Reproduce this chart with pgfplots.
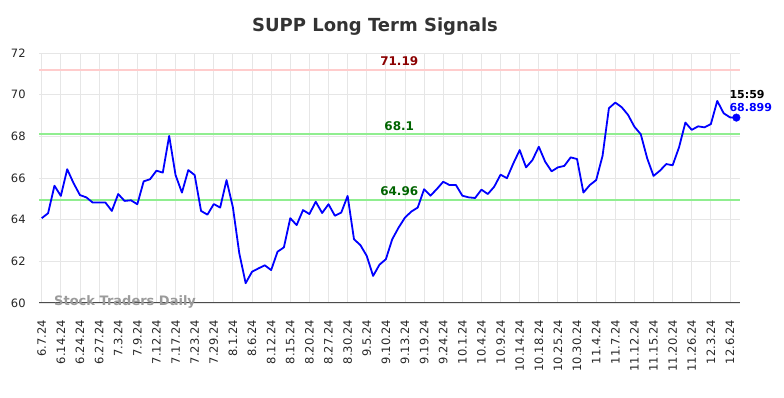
\documentclass[border=0pt]{standalone}
\usepackage{fontspec}
\setmainfont{DejaVu Sans}
\usepackage{pgfplots}
\pgfplotsset{compat=1.18}
\definecolor{sigred}{RGB}{255,204,204}
\definecolor{siggreen}{RGB}{144,238,144}
\definecolor{darkredtxt}{RGB}{139,0,0}
\definecolor{darkgreentxt}{RGB}{0,100,0}
\definecolor{titlegray}{RGB}{51,51,51}
\definecolor{gridgray}{RGB}{230,230,230}
\definecolor{wmgray}{RGB}{155,155,155}
\begin{document}
\begin{tikzpicture}[x=1pt,y=1pt]
\useasboundingbox (0,0) rectangle (784,398);
\node[font=\fontsize{18}{20}\selectfont\bfseries, text=titlegray] at (375,371) {SUPP Long Term Signals};
\begin{axis}[
  at={(39.3pt,95pt)}, anchor=south west,
  scale only axis, width=700.7pt, height=250pt,
  xmin=-0.38, xmax=109.57, ymin=60, ymax=72,
  ytick={60,62,...,72},
  xtick={0,3,...,108},
  xticklabels={6.7.24,6.14.24,6.24.24,6.27.24,7.3.24,7.9.24,7.12.24,7.17.24,7.23.24,7.29.24,8.1.24,8.6.24,8.12.24,8.15.24,8.20.24,8.27.24,8.30.24,9.5.24,9.10.24,9.13.24,9.19.24,9.24.24,10.1.24,10.4.24,10.9.24,10.14.24,10.18.24,10.25.24,10.30.24,11.4.24,11.7.24,11.12.24,11.15.24,11.20.24,11.26.24,12.3.24,12.6.24},
  /pgf/number format/assume math mode=true,
  ticklabel style={font=\fontsize{11.5}{13}\selectfont, text=black!85},
  xticklabel style={rotate=90, anchor=east, inner sep=0pt},
  xticklabel shift=17pt,
  yticklabel style={inner sep=0pt, xshift=-13.5pt},
  major tick length=0pt,
  xmajorgrids, ymajorgrids,
  grid style={draw=gridgray, line width=0.9pt},
  axis lines*=left,
  x axis line style={draw=black!70, line width=1pt, -},
  y axis line style={draw=none},
  clip=false,
]
\addplot[draw=sigred, line width=1.5pt] coordinates {(-0.38,71.19) (109.57,71.19)};
\addplot[draw=siggreen, line width=1.8pt] coordinates {(-0.38,68.1) (109.57,68.1)};
\addplot[draw=siggreen, line width=1.8pt] coordinates {(-0.38,64.96) (109.57,64.96)};
\addplot[draw=blue, line width=1.8pt, line join=round] coordinates {
(0,64.07) (1,64.31) (2,65.63) (3,65.14) (4,66.42) (5,65.75) (6,65.18) (7,65.07) (8,64.82) (9,64.82)
(10,64.82) (11,64.42) (12,65.23) (13,64.90) (14,64.93) (15,64.74) (16,65.84) (17,65.94) (18,66.35) (19,66.26)
(20,68.02) (21,66.14) (22,65.30) (23,66.38) (24,66.14) (25,64.42) (26,64.24) (27,64.75) (28,64.58) (29,65.90)
(30,64.59) (31,62.39) (32,60.95) (33,61.50) (34,61.66) (35,61.81) (36,61.58) (37,62.46) (38,62.67) (39,64.07)
(40,63.74) (41,64.46) (42,64.27) (43,64.86) (44,64.32) (45,64.74) (46,64.19) (47,64.34) (48,65.14) (49,63.06)
(50,62.78) (51,62.26) (52,61.30) (53,61.84) (54,62.10) (55,63.06) (56,63.62) (57,64.10) (58,64.39) (59,64.58)
(60,65.46) (61,65.15) (62,65.47) (63,65.82) (64,65.66) (65,65.66) (66,65.15) (67,65.07) (68,65.04) (69,65.44)
(70,65.23) (71,65.58) (72,66.16) (73,65.99) (74,66.70) (75,67.34) (76,66.51) (77,66.86) (78,67.50) (79,66.78)
(80,66.32) (81,66.51) (82,66.58) (83,66.99) (84,66.91) (85,65.30) (86,65.66) (87,65.90) (88,67.06) (89,69.35)
(90,69.62) (91,69.40) (92,69.03) (93,68.46) (94,68.10) (95,66.95) (96,66.10) (97,66.35) (98,66.67) (99,66.61)
(100,67.47) (101,68.66) (102,68.31) (103,68.48) (104,68.43) (105,68.59) (106,69.70) (107,69.11) (108,68.91) (109,68.899)
};
\addplot[only marks, mark=*, mark size=3.8pt, color=blue] coordinates {(109,68.899)};
\node[font=\fontsize{12}{14}\selectfont\bfseries, text=darkredtxt, anchor=south, inner sep=0pt, yshift=3.5pt] at (axis cs:56.1,71.19) {71.19};
\node[font=\fontsize{12}{14}\selectfont\bfseries, text=darkgreentxt, anchor=south, inner sep=0pt, yshift=3.5pt] at (axis cs:56.1,68.1) {68.1};
\node[font=\fontsize{12}{14}\selectfont\bfseries, text=darkgreentxt, anchor=south, inner sep=0pt, yshift=3.5pt] at (axis cs:56.1,64.96) {64.96};
\node[font=\fontsize{11}{13}\selectfont\bfseries, text=black, anchor=south west, inner sep=0pt, xshift=-7pt, yshift=19pt] at (axis cs:109,68.899) {15:59};
\node[font=\fontsize{11}{13}\selectfont\bfseries, text=blue, anchor=south west, inner sep=0pt, xshift=-7pt, yshift=6pt] at (axis cs:109,68.899) {68.899};
\node[font=\fontsize{13}{15}\selectfont\bfseries, text=wmgray, anchor=west, inner sep=0pt, xshift=14.7pt, yshift=1.3pt] at (axis cs:-0.38,60) {Stock Traders Daily};
\end{axis}
\end{tikzpicture}
\end{document}
